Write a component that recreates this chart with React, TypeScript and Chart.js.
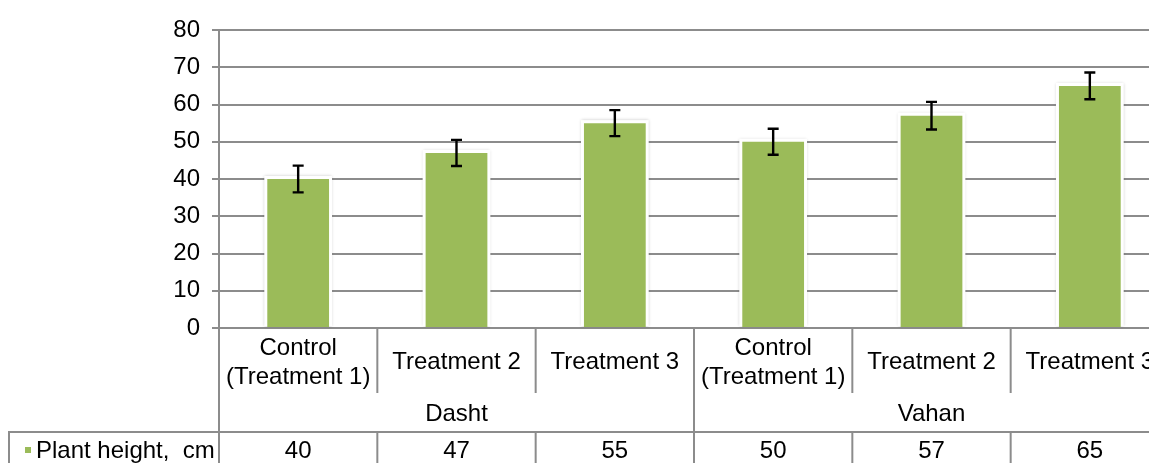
import React, { useEffect, useRef } from "react";
import { Chart, registerables } from "chart.js";

Chart.register(...registerables);

const categoryLabels: string[][] = [
  ["Control", "(Treatment 1)"],
  ["Treatment 2"],
  ["Treatment 3"],
  ["Control", "(Treatment 1)"],
  ["Treatment 2"],
  ["Treatment 3"],
];
const groupLabels = ["Dasht", "Vahan"];
const groupSize = 3;
const seriesName = "Plant height,  cm";
const plantHeight = [40, 47, 55, 50, 57, 65];
const errorValues = [3.6, 3.5, 3.5, 3.5, 3.7, 3.6];
const yMin = 0;
const yMax = 80;
const yStep = 10;

const FONT = '"Liberation Sans", Arial, sans-serif';
const FONT_SIZE = 24;
const GRID = "#8c8c8c";
const GREEN = "#9bbb59";

export default function App() {
  const ref = useRef<HTMLCanvasElement | null>(null);

  useEffect(() => {
    if (!ref.current) return;

    const glowPlugin = {
      id: "glow",
      beforeDatasetsDraw(chart: any) {
        const ctx = chart.ctx;
        const meta = chart.getDatasetMeta(0);
        ctx.save();
        meta.data.forEach((bar: any) => {
          const { x, y, base, width } = bar.getProps(["x", "y", "base", "width"], true);
          ctx.shadowColor = "rgba(0,0,0,0.22)";
          ctx.shadowBlur = 3;
          ctx.fillStyle = "#ffffff";
          ctx.fillRect(x - width / 2 - 3, y - 3, width + 6, base - y + 2);
        });
        ctx.restore();
      },
    };

    const errorPlugin = {
      id: "errorBars",
      afterDatasetsDraw(chart: any) {
        const ctx = chart.ctx;
        const ys = chart.scales.y;
        const meta = chart.getDatasetMeta(0);
        ctx.save();
        ctx.strokeStyle = "#000000";
        ctx.lineWidth = 2.4;
        meta.data.forEach((bar: any, i: number) => {
          const x = bar.x;
          const top = ys.getPixelForValue(plantHeight[i] + errorValues[i]);
          const bot = ys.getPixelForValue(plantHeight[i] - errorValues[i]);
          ctx.beginPath();
          ctx.moveTo(x, top);
          ctx.lineTo(x, bot);
          ctx.moveTo(x - 5.5, top);
          ctx.lineTo(x + 5.5, top);
          ctx.moveTo(x - 5.5, bot);
          ctx.lineTo(x + 5.5, bot);
          ctx.stroke();
        });
        ctx.restore();
      },
    };

    const tablePlugin = {
      id: "table",
      afterDraw(chart: any) {
        const ctx = chart.ctx;
        const xs = chart.scales.x;
        const area = chart.chartArea;
        const n = categoryLabels.length;
        const w = (xs.right - xs.left) / n;
        const bnd = (i: number) => xs.left + i * w;
        const top = area.bottom;
        const row1Bottom = top + 65;
        const row3Top = top + 104;
        const H = chart.height;

        ctx.save();
        ctx.strokeStyle = GRID;
        ctx.lineWidth = 2;
        ctx.beginPath();
        ctx.moveTo(bnd(0), top);
        ctx.lineTo(bnd(0), H);
        for (let i = 1; i < n; i++) {
          const x = bnd(i);
          if (i % groupSize === 0) {
            ctx.moveTo(x, top);
            ctx.lineTo(x, H);
          } else {
            ctx.moveTo(x, top);
            ctx.lineTo(x, row1Bottom);
            ctx.moveTo(x, row3Top);
            ctx.lineTo(x, H);
          }
        }
        ctx.moveTo(bnd(n), top);
        ctx.lineTo(bnd(n), H);
        ctx.moveTo(0, row3Top);
        ctx.lineTo(bnd(n), row3Top);
        ctx.moveTo(1, row3Top);
        ctx.lineTo(1, H);
        ctx.stroke();

        ctx.fillStyle = "#000000";
        ctx.font = `${FONT_SIZE}px ${FONT}`;
        ctx.textAlign = "center";
        ctx.textBaseline = "middle";
        categoryLabels.forEach((lines, i) => {
          const cx = xs.getPixelForValue(i);
          if (lines.length === 2) {
            ctx.fillText(lines[0], cx, top + 20);
            ctx.fillText(lines[1], cx, top + 49);
          } else {
            ctx.fillText(lines[0], cx, top + 34);
          }
        });
        groupLabels.forEach((g, gi) => {
          const cx = (bnd(gi * groupSize) + bnd((gi + 1) * groupSize)) / 2;
          ctx.fillText(g, cx, top + 86);
        });
        plantHeight.forEach((v, i) => {
          ctx.fillText(String(v), xs.getPixelForValue(i), row3Top + 19);
        });
        ctx.fillStyle = GREEN;
        ctx.fillRect(17, row3Top + 15, 6, 6);
        ctx.fillStyle = "#000000";
        ctx.textAlign = "left";
        ctx.fillText(seriesName, 28, row3Top + 19);
        ctx.restore();
      },
    };

    const chart = new Chart(ref.current, {
      type: "bar",
      data: {
        labels: categoryLabels.map((l) => l.join(" ")),
        datasets: [
          {
            label: seriesName,
            data: plantHeight,
            backgroundColor: GREEN,
            borderWidth: 0,
            barPercentage: 0.39,
            categoryPercentage: 1,
          },
        ],
      },
      options: {
        responsive: false,
        animation: false,
        layout: { padding: { left: 0, right: 14, top: 22, bottom: 0 } },
        plugins: {
          legend: { display: false },
          tooltip: { enabled: false },
        },
        scales: {
          x: {
            offset: true,
            grid: { display: false },
            border: { display: false },
            ticks: { display: false },
            afterFit: (s: any) => {
              s.height = 135;
              s.paddingLeft = 0;
              s.paddingRight = 0;
            },
          },
          y: {
            min: yMin,
            max: yMax,
            ticks: {
              stepSize: yStep,
              color: "#000000",
              padding: 12,
              font: { family: FONT, size: FONT_SIZE },
            },
            grid: {
              color: GRID,
              lineWidth: 2,
              drawTicks: true,
              tickLength: 7,
              tickColor: GRID,
            },
            border: { display: true, color: GRID, width: 2 },
            afterFit: (s: any) => {
              s.width = 211;
              s.paddingTop = 0;
              s.paddingBottom = 0;
            },
          },
        },
      },
      plugins: [glowPlugin, errorPlugin, tablePlugin],
    });

    return () => chart.destroy();
  }, []);

  return (
    <div style={{ width: 1149, height: 455, overflow: "hidden", position: "relative" }}>
      <canvas ref={ref} width={1175} height={455} style={{ display: "block" }} />
    </div>
  );
}
